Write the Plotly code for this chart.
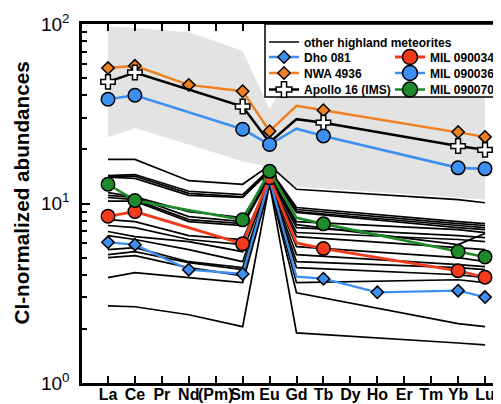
import plotly.graph_objects as go

FONT = "Liberation Sans, Arial, sans-serif"

# ---------------- data ----------------
elements = ["La", "Ce", "Pr", "Nd", "(Pm)", "Sm", "Eu", "Gd", "Tb",
            "Dy", "Ho", "Er", "Tm", "Yb", "Lu"]
y_tickvals = [1, 10, 100]
y_ticktext = ["10<sup>0</sup>", "10<sup>1</sup>", "10<sup>2</sup>"]
y_minor = [2, 3, 4, 5, 6, 7, 8, 9, 20, 30, 40, 50, 60, 70, 80, 90]
y_title = "CI-normalized abundances"

# grey field (range of lunar highland rocks)
band_el = ["La", "Ce", "Nd", "Sm", "Eu", "Gd", "Yb", "Lu"]
band_upper = [97.0, 95.0, 90.0, 70.7, 33.5, 62.0, 52.6, 51.2]
band_lower = [23.4, 26.3, 21.2, 17.2, 15.9, 12.4, 10.8, 10.5]

# other highland meteorites
other_el = ["La", "Ce", "Nd", "Sm", "Eu", "Gd", "Yb", "Lu"]
other_01 = [17.6, 17.6, 13.4, 12.8, 16.3, 12.0, 10.5, 10.1]
other_02 = [14.3, 14.5, 11.7, 11.2, 15.5, 9.50, 7.93, 7.73]
other_03 = [14.2, 14.2, 11.4, 10.9, 15.3, 9.26, 7.73, 7.54]
other_04 = [14.0, 13.8, 11.1, 10.8, 15.1, 9.02, 7.54, 7.34]
other_05 = [11.5, 10.9, 9.02, 8.35, 14.5, 8.91, 7.34, 7.16]
other_06 = [11.1, 10.8, 8.46, 7.93, 14.3, 7.93, 7.16, 6.89]
other_07 = [10.8, 10.5, 8.14, 7.73, 14.2, 7.63, 5.90, 6.80]
other_08 = [10.3, 10.3, 7.93, 7.54, 14.0, 7.34, 6.62, 6.46]
other_09 = [8.14, 7.93, 6.62, 6.30, 13.6, 6.89, 6.30, 6.13]
other_10 = [7.54, 7.34, 6.30, 5.90, 13.4, 6.54, 5.68, 5.53]
other_11 = [6.98, 6.54, 6.13, 5.39, 13.3, 5.75, 4.99, 4.74]
other_12 = [6.62, 6.30, 5.53, 4.74, 13.1, 5.19, 4.56, 4.45]
other_13 = [5.19, 5.39, 4.68, 4.28, 12.9, 4.74, 4.39, 4.28]
other_14 = [5.53, 5.68, 4.74, 4.39, 12.8, 4.39, 4.01, 3.86]
other_15 = [4.99, 5.12, 4.39, 3.96, 12.8, 3.62, 3.76, 3.62]
other_16 = [3.86, 4.12, 3.86, 3.62, 12.6, 3.18, 2.14, 2.06]
other_17 = [2.69, 2.66, 2.40, 2.06, 12.9, 1.90, 1.67, 1.63]
other_lines = [other_01, other_02, other_03, other_04, other_05, other_06,
               other_07, other_08, other_09, other_10, other_11, other_12,
               other_13, other_14, other_15, other_16, other_17]

dho081_el = ["La", "Ce", "Nd", "Sm", "Eu", "Gd", "Tb", "Ho", "Yb", "Lu"]
dho081_val = [6.08, 5.90, 4.28, 4.05, 13.6, 3.91, 3.81, 3.20, 3.27, 3.01]
dho081_mark = [1, 1, 1, 1, 0, 0, 1, 1, 1, 1]

nwa4936_el = ["La", "Ce", "Nd", "Sm", "Eu", "Gd", "Tb", "Yb", "Lu"]
nwa4936_val = [56.8, 58.5, 45.8, 42.2, 25.3, 35.0, 33.1, 25.0, 23.5]
nwa4936_mark = [1, 1, 1, 1, 1, 0, 1, 1, 1]

apollo16_el = ["La", "Ce", "Sm", "Eu", "Gd", "Tb", "Yb", "Lu"]
apollo16_val = [47.6, 53.7, 34.7, 21.9, 29.5, 28.2, 20.9, 19.9]
apollo16_mark = [1, 1, 1, 0, 0, 1, 1, 1]

mil36_el = ["La", "Ce", "Sm", "Eu", "Gd", "Tb", "Yb", "Lu"]
mil36_val = [38.1, 40.1, 25.9, 21.3, 26.1, 23.8, 15.8, 15.6]
mil36_mark = [1, 1, 1, 1, 0, 1, 1, 1]

mil34_el = ["La", "Ce", "Sm", "Eu", "Gd", "Tb", "Yb", "Lu"]
mil34_val = [8.49, 9.02, 5.96, 13.9, 6.03, 5.61, 4.22, 3.88]
mil34_mark = [1, 1, 1, 1, 0, 1, 1, 1]

mil70_el = ["La", "Ce", "Sm", "Eu", "Gd", "Tb", "Yb", "Lu"]
mil70_val = [12.8, 10.4, 8.11, 15.1, 8.32, 7.70, 5.40, 5.04]
mil70_mark = [1, 1, 1, 1, 0, 1, 1, 1]

BLUE = "#3d8ff0"
ORANGE = "#ef8022"
RED = "#f23b1c"
GREEN = "#1f8a2a"

fig = go.Figure()

fig.add_trace(go.Scatter(
    x=band_el + band_el[::-1], y=band_upper + band_lower[::-1],
    fill="toself", fillcolor="#e3e3e3", mode="lines", line=dict(width=0),
    showlegend=False, hoverinfo="skip"))

for i, vals in enumerate(other_lines):
    fig.add_trace(go.Scatter(
        x=other_el, y=vals, mode="lines",
        line=dict(color="black", width=1.7),
        name="other highland meteorites", legend="legend",
        showlegend=(i == 0)))


def add_series(name, els, vals, marks, color, symbol, size, lsize, fill,
               legend, lw=2.5):
    fig.add_trace(go.Scatter(x=els, y=vals, mode="lines",
                             line=dict(color=color, width=lw),
                             showlegend=False))
    mx = [e for e, m in zip(els, marks) if m]
    my = [v for v, m in zip(vals, marks) if m]
    fig.add_trace(go.Scatter(
        x=mx, y=my, mode="markers",
        marker=dict(symbol=symbol, size=size, color=fill,
                    line=dict(color="black", width=1.5)),
        showlegend=False))
    fig.add_trace(go.Scatter(
        x=[None], y=[None], mode="lines+markers", name=name, legend=legend,
        line=dict(color=color, width=lw),
        marker=dict(symbol=symbol, size=lsize, color=fill,
                    line=dict(color="black", width=1.5))))


add_series("Dho 081", dho081_el, dho081_val, dho081_mark, BLUE, "diamond",
           9.5, 9.5, BLUE, "legend2", lw=2.3)
add_series("NWA 4936", nwa4936_el, nwa4936_val, nwa4936_mark, ORANGE,
           "diamond", 9.5, 9.5, ORANGE, "legend3", lw=2.5)
add_series("Apollo 16 (IMS)", apollo16_el, apollo16_val, apollo16_mark,
           "black", "cross", 12, 13, "white", "legend4", lw=2.5)
add_series("MIL 090036", mil36_el, mil36_val, mil36_mark, BLUE, "circle",
           13.5, 15, BLUE, "legend3", lw=2.6)
add_series("MIL 090034", mil34_el, mil34_val, mil34_mark, RED, "circle",
           13.5, 15, RED, "legend2", lw=2.8)
add_series("MIL 090070", mil70_el, mil70_val, mil70_mark, GREEN, "circle",
           13.5, 15, GREEN, "legend4", lw=2.6)

# page shows the figure offset by the 8px body margin
OFF = 8
W, H = 501, 404
ML, MR, MT, MB = 74, 0, 16, 29
PW, PH = W - ML - MR, H - MT - MB


def px2paper_x(sx):
    return (sx - OFF - ML) / PW


def px2paper_y(sy):
    return 1 - (sy - OFF - MT) / PH


LEG_X = px2paper_x(264)
legfont = dict(family=FONT, size=12, color="black", weight="bold")


def leg(yc, ew=81):
    d = dict(x=LEG_X, xanchor="left", y=px2paper_y(yc - 12),
             yanchor="top", orientation="h", bgcolor="rgba(0,0,0,0)",
             borderwidth=0, font=legfont, itemclick=False)
    if ew:
        d.update(entrywidth=ew, entrywidthmode="pixels")
    return d


fig.update_layout(
    width=W, height=H,
    margin=dict(l=ML, r=MR, t=MT, b=MB, autoexpand=False),
    paper_bgcolor="white", plot_bgcolor="white",
    font=dict(family=FONT, color="black"),
    legend=leg(39.5, None), legend2=leg(54.5), legend3=leg(70.5),
    legend4=leg(87),
    shapes=[dict(type="rect", xref="paper", yref="paper",
                 x0=px2paper_x(265), x1=1.05, y0=px2paper_y(97), y1=1.0,
                 fillcolor="white", line=dict(color="black", width=1.5),
                 layer="above")],
    annotations=[dict(text=y_title, textangle=-90, showarrow=False,
                      xref="paper", yref="paper",
                      x=px2paper_x(21), y=px2paper_y(193.5),
                      xanchor="center", yanchor="middle",
                      font=dict(family=FONT, size=20.7, color="black",
                                weight="bold"))],
    xaxis=dict(type="category", categoryorder="array",
               categoryarray=elements, range=[-0.965, 14.89],
               showline=True, linecolor="black", linewidth=2.5,
               mirror="ticks", ticks="inside", ticklen=7, tickwidth=2,
               tickcolor="black", showgrid=False, zeroline=False,
               tickangle=0, automargin=False, ticklabelstandoff=-5,
               tickfont=dict(family=FONT, size=16, color="black",
                             weight="bold")),
    yaxis=dict(type="log", range=[0, 2], showline=True, linecolor="black",
               linewidth=2.5, mirror=False, ticks="inside", ticklen=8,
               tickwidth=2, tickcolor="black", tickmode="array",
               tickvals=y_tickvals, ticktext=y_ticktext,
               ticklabelstandoff=6, automargin=False,
               tickfont=dict(family=FONT, size=19, color="black"),
               minor=dict(ticks="inside", ticklen=5, tickwidth=1.5,
                          tickcolor="black", tickmode="array",
                          tickvals=y_minor, showgrid=False),
               showgrid=False, zeroline=False),
)

fig.write_html("out.html")
